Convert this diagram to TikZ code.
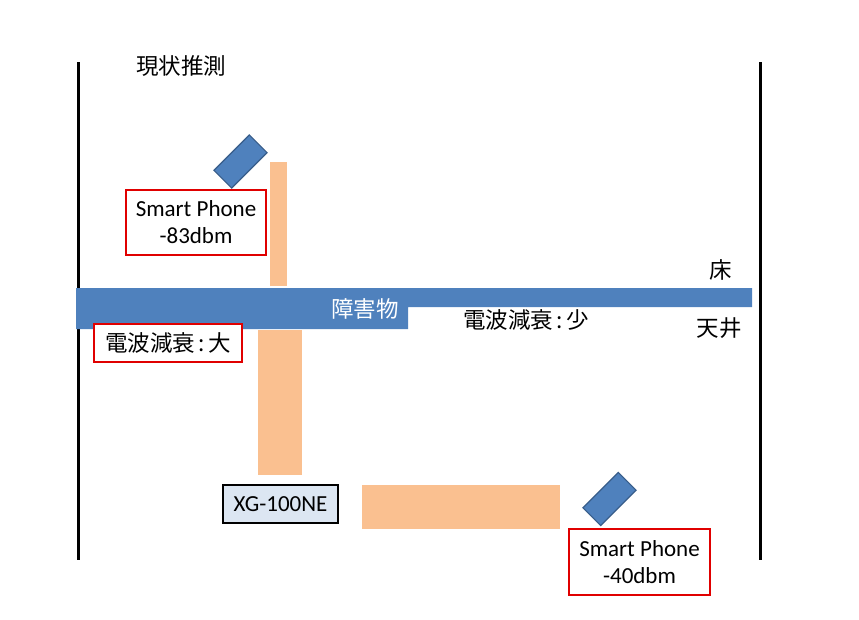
\documentclass[tikz,border=0pt]{standalone}
\usepackage{fontspec}
\setmainfont{Carlito}
\newfontfamily\jp{Noto Sans CJK JP}
\definecolor{obst}{HTML}{4F81BD}
\definecolor{obstline}{HTML}{385D8A}
\definecolor{peach}{HTML}{FAC090}
\definecolor{redbox}{HTML}{E00000}
\definecolor{devfill}{HTML}{DCE6F2}
\newcommand{\jcolon}{\hspace{3.5pt}:\hspace{3.5pt}}
\begin{document}
\begin{tikzpicture}[x=1pt,y=-1pt,
  wall/.style={line width=3pt,black},
  peachbar/.style={fill=peach,draw=none},
  phone/.style={draw=obstline,fill=obst,line width=1.2pt,minimum width=50pt,minimum height=25pt,inner sep=0pt,rotate=45},
  redlabel/.style={draw=redbox,line width=1.8pt,fill=white,inner sep=0pt,align=center,font=\fontsize{23}{27}\selectfont},
  jptext/.style={font=\jp\fontsize{22.5}{26}\selectfont,inner sep=0pt},
  devbox/.style={draw=black,line width=2.2pt,fill=devfill,minimum width=115pt,minimum height=38pt,inner sep=0pt,font=\fontsize{23}{26}\selectfont}]
\useasboundingbox (0,0) rectangle (859,619);
% walls
\coordinate (lwt) at (78,62); \coordinate (lwb) at (78,560);
\coordinate (rwt) at (760,62); \coordinate (rwb) at (760,560);
\draw[wall] (lwt) -- (lwb);
\draw[wall] (rwt) -- (rwb);
% title
\node[jptext,anchor=west] (title) at (136,66) {現状推測};
% peach bars
\fill[peachbar] (270,162) rectangle (287,286);
\fill[peachbar] (258,330) rectangle (302,475);
\fill[peachbar] (362,485) rectangle (560,529);
% obstacle
\fill[obst] (76,288) -- (752,288) -- (752,307) -- (408,307) -- (408,329) -- (76,329) -- cycle;
\node[jptext,text=white] (obs) at (365,309) {障害物};
% labels
\node[jptext] (floor) at (721,270) {床};
\node[jptext] (ceil) at (719,328) {天井};
\node[jptext] (attsmall) at (526,320) {電波減衰\jcolon 少};
% phones
\node[phone] (ph1) at (240.5,161.5) {};
\node[phone] (ph2) at (609.5,499) {};
% red boxes
\node[redlabel,minimum width=140pt,minimum height=65pt] (sp1) at (196,222.5) {Smart Phone\\-83dbm};
\node[redlabel,minimum width=148pt,minimum height=38pt,font=\jp\fontsize{22.5}{26}\selectfont] (attbig) at (168,343) {電波減衰\jcolon 大};
\node[redlabel,minimum width=141pt,minimum height=66pt] (sp2) at (639.5,562) {Smart Phone\\-40dbm};
% device
\node[devbox] (xg) at (280.5,504) {XG-100NE};
\end{tikzpicture}
\end{document}
